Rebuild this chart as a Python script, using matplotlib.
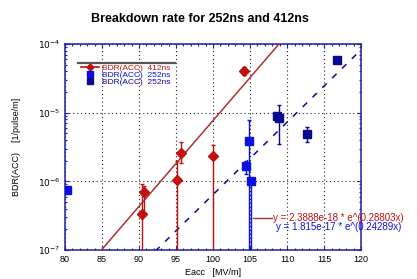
import numpy as np
import matplotlib
matplotlib.use("Agg")
import matplotlib.pyplot as plt
from matplotlib.lines import Line2D
from matplotlib.ticker import MultipleLocator, LogLocator, FixedLocator

plt.rcParams['font.family'] = ['Liberation Sans', 'DejaVu Sans']

# ---- data ----
red_x = [90.4, 90.7, 95.1, 95.6, 100.0, 104.2]
red_y = [3.4e-7, 6.9e-7, 1.05e-6, 2.6e-6, 2.35e-6, 4.1e-5]
red_lo = [5e-8, 3.2e-7, 5e-8, 1.85e-6, 5e-8, 3.6e-5]
red_hi = [9e-7, 8.5e-7, 2.0e-6, 3.8e-6, 3.4e-6, 4.6e-5]

blue1_x = [80.2, 104.8, 104.4, 105.1]
blue1_y = [7.5e-7, 3.9e-6, 1.66e-6, 1.0e-6]
blue1_lo = [7.5e-7, 5e-8, 1.3e-6, 5e-8]
blue1_hi = [7.5e-7, 7.8e-6, 2.0e-6, 1.0e-6]

blue2_x = [108.6, 108.95, 112.65, 116.7]
blue2_y = [8.9e-6, 8.3e-6, 4.9e-6, 5.8e-5]
blue2_lo = [8.9e-6, 3.5e-6, 3.7e-6, 5.8e-5]
blue2_hi = [8.9e-6, 1.3e-5, 6.2e-6, 5.8e-5]

fit_red = (2.3888e-18, 0.28803)
fit_blue = (1.815e-17, 0.24289)

xticks = [80, 85, 90, 95, 100, 105, 110, 115, 120]
yticks = [1e-7, 1e-6, 1e-5, 1e-4]
ytick_labels = [r'$10^{-7}$', r'$10^{-6}$', r'$10^{-5}$', r'$10^{-4}$']

labels = ['BDR(ACC)  412ns', 'BDR(ACC)  252ns', 'BDR(ACC)  252ns']
eq_red = 'y = 2.3888e-18 * e^(0.28803x)'
eq_blue = 'y = 1.815e-17 * e^(0.24289x)'

RED = '#c01010'
RED_LINE = '#b03030'
BLUE = '#0a10e0'
NAVY = '#0a0a90'
SPINE = '#2020a0'

fig = plt.figure(figsize=(4.17, 2.79), dpi=100)
ax = fig.add_axes([0.156, 0.104, 0.710, 0.738])
ax.set_yscale('log')
ax.set_xlim(80, 120)
ax.set_ylim(1e-7, 1e-4)

# fits
xx = np.linspace(80, 120, 400)
ax.plot(xx, fit_red[0] * np.exp(fit_red[1] * xx), color=RED_LINE, lw=1.1, zorder=3)
ax.plot(xx, fit_blue[0] * np.exp(fit_blue[1] * xx), color=NAVY, lw=1.1,
        linestyle=(0, (4, 5)), zorder=3)

def draw(xs, ys, lo, hi, color, marker, ms):
    ys = np.array(ys); lo = np.array(lo); hi = np.array(hi)
    ax.errorbar(xs, ys, yerr=[ys - lo, hi - ys], fmt=marker, color=color,
                ms=ms, mec=color, mfc=color, elinewidth=1.0, capsize=1.5,
                zorder=4, clip_on=True)

draw(red_x, red_y, red_lo, red_hi, RED, 'D', 4.8)
draw(blue1_x, blue1_y, blue1_lo, blue1_hi, BLUE, 's', 5.5)
draw(blue2_x, blue2_y, blue2_lo, blue2_hi, NAVY, 's', 5.5)

ax.set_xticks(xticks)
ax.xaxis.set_minor_locator(MultipleLocator(1))
ax.yaxis.set_major_locator(FixedLocator(yticks))
ax.set_yticklabels(ytick_labels)
ax.yaxis.set_minor_locator(LogLocator(base=10, subs=np.arange(2, 10)))
ax.tick_params(which='both', direction='in', top=True, right=True,
               color=SPINE, labelsize=6.5, width=0.8)
ax.tick_params(which='major', length=3)
ax.tick_params(which='minor', length=1.5, labelleft=False)
ax.grid(True, which='major', color='#222222', linestyle=(0, (1, 2.5)), lw=0.8)
for s in ax.spines.values():
    s.set_color(SPINE)
    s.set_linewidth(1.1)

ax.set_xlabel('Eacc   [MV/m]', fontsize=6.5, labelpad=3)
ax.set_ylabel('BDR(ACC)    [1/pulse/m]', fontsize=6.5, labelpad=12)
fig.suptitle('Breakdown rate for 252ns and 412ns', fontsize=9, fontweight='bold',
             x=0.48, y=0.955)

handles = [
    Line2D([], [], color=RED, marker='D', ms=3.5, lw=1.2),
    Line2D([], [], color=BLUE, marker='s', ms=4, lw=0),
    Line2D([], [], color=NAVY, marker='s', ms=4, lw=0),
]
leg = ax.legend(handles, labels, loc='upper left', bbox_to_anchor=(0.05, 0.905),
                fontsize=6, frameon=False, labelspacing=-0.1, handlelength=2.2,
                handletextpad=0.4, borderaxespad=0, borderpad=0.1)
for t, c in zip(leg.get_texts(), [RED, BLUE, NAVY]):
    t.set_color(c)
ax.add_line(Line2D([0.045, 0.37], [0.91, 0.91], transform=ax.transAxes,
                   color='#555555', lw=1.6, zorder=5))

# equations
fig.add_artist(Line2D([252.5 / 417, 271.5 / 417], [1 - 218 / 279, 1 - 218 / 279],
                      color=RED_LINE, lw=1.0))
fig.text(273 / 417, 1 - 218 / 279, eq_red, fontsize=7, color=RED,
         va='center', ha='left')
fig.text(276 / 417, 1 - 227 / 279, eq_blue, fontsize=7, color=BLUE,
         va='center', ha='left')

fig.savefig('out.png', dpi=100)
